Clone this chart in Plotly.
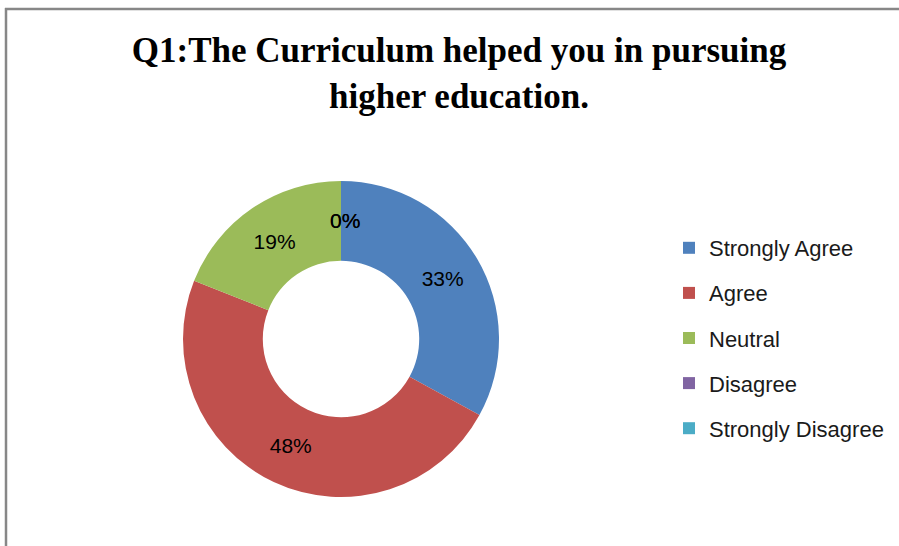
import math
import plotly.graph_objects as go

categories = ["Strongly Agree", "Agree", "Neutral", "Disagree", "Strongly Disagree"]
values = [33, 48, 19, 0, 0]
colors = ["#4F81BD", "#C0504D", "#9BBB59", "#8064A2", "#4BACC6"]
title_text = "Q1:The Curriculum helped you in pursuing<br>higher education."

W, H = 899, 546
cx, cy, R = 341, 339, 158
HOLE = 0.495
LABEL_FONT = dict(family="Liberation Sans", size=21, color="#000000")

fig = go.Figure()
fig.add_trace(go.Pie(
    labels=categories,
    values=values,
    marker=dict(colors=colors),
    hole=HOLE,
    sort=False,
    direction="clockwise",
    rotation=0,
    texttemplate="%{percent:.0%}",
    textposition="inside",
    insidetextorientation="horizontal",
    textfont=LABEL_FONT,
    showlegend=False,
    domain=dict(x=[(cx - R) / W, (cx + R) / W], y=[(H - cy - R) / H, (H - cy + R) / H]),
))

# Labels for zero-valued slices (Plotly does not draw them), placed at the slice's angle
total = sum(values)
cum = 0
annotations = []
rmid = R * (1 + HOLE) / 2
for v in values:
    if v == 0:
        th = 2 * math.pi * cum / total
        px = cx + rmid * math.sin(th) + 4
        py = cy - rmid * math.cos(th)
        annotations.append(dict(x=px / W, y=1 - py / H, xref="paper", yref="paper",
                                text=f"{v / total:.0%}", showarrow=False, font=LABEL_FONT))
    cum += v

for c, col in zip(categories, colors):
    fig.add_trace(go.Scatter(
        x=[None], y=[None], mode="markers", name=c, legendgroup=c,
        marker=dict(symbol="square", size=12, color=col),
    ))

fig.update_layout(
    width=W, height=H,
    margin=dict(l=0, r=0, t=0, b=0),
    paper_bgcolor="white", plot_bgcolor="white",
    xaxis=dict(visible=False), yaxis=dict(visible=False),
    title=dict(text=title_text, x=459 / W, xanchor="center", y=1 - 62 / H, yanchor="top",
               font=dict(family="Liberation Serif", size=35, color="#000000", weight="bold")),
    legend=dict(x=669 / W, xanchor="left", y=1 - 227 / H, yanchor="top",
                font=dict(family="Liberation Sans", size=22, color="#1a1a1a"),
                tracegroupgap=13.5, itemwidth=30, bgcolor="rgba(0,0,0,0)"),
    annotations=annotations,
    shapes=[
        dict(type="line", xref="paper", yref="paper", x0=5 / W, x1=1.01, y0=1 - 9 / H, y1=1 - 9 / H,
             line=dict(color="#878787", width=2.5)),
        dict(type="line", xref="paper", yref="paper", x0=6 / W, x1=6 / W, y0=1 - 8 / H, y1=-0.01,
             line=dict(color="#878787", width=2.5)),
    ],
)

fig.write_html("out.html", config={"displayModeBar": False},
               post_script="document.body.style.margin='0';document.body.style.overflow='hidden';")
